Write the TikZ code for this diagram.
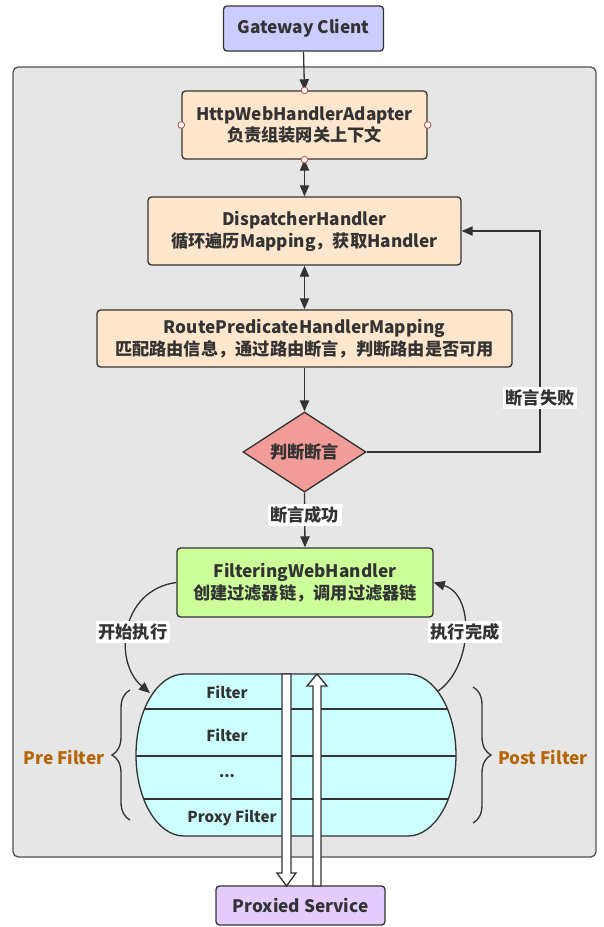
\documentclass[tikz,border=0pt]{standalone}
\usepackage{fontspec}
\setmainfont{Noto Sans CJK SC}
\usetikzlibrary{shapes.geometric,arrows.meta,decorations.pathreplacing,calc}
\definecolor{linec}{HTML}{333333}
\definecolor{bgc}{HTML}{E6E6E6}
\definecolor{gcc}{HTML}{CCCCFF}
\definecolor{peach}{HTML}{FFE6CC}
\definecolor{diac}{HTML}{F19C99}
\definecolor{greenc}{HTML}{CCFF99}
\definecolor{cyanc}{HTML}{CCFFFF}
\definecolor{purpc}{HTML}{E5CCFF}
\definecolor{brownc}{HTML}{B46504}
\definecolor{dotc}{HTML}{B85450}
\tikzset{
  box/.style={draw=linec, line width=0.75pt, rounded corners=2pt, align=center,
    inner sep=0pt, text=linec, font=\fontsize{9.8}{12.5}\selectfont\bfseries},
  txt/.style={text=linec, inner sep=1pt, font=\fontsize{9.8}{12.5}\selectfont\bfseries},
  ftxt/.style={txt, font=\fontsize{8.6}{11}\selectfont\bfseries},
  lbl/.style={txt, fill=white, inner sep=1.5pt},
  arr/.style={draw=linec, line width=0.75pt, -{Triangle[length=6.3pt,width=5.3pt]}},
  darr/.style={draw=linec, line width=0.75pt, {Triangle[length=6.3pt,width=5.3pt]}-{Triangle[length=6.3pt,width=5.3pt]}},
  dot/.style={circle, draw=dotc, fill=white, line width=0.5pt, inner sep=0pt, minimum size=3.8pt},
  hollow/.style={draw=linec, fill=white, line width=0.75pt, line join=miter},
  bracestyle/.style={draw=linec, line width=0.75pt, decorate, decoration={brace, amplitude=0.36cm}},
}
\begin{document}
\begin{tikzpicture}[x=0.02cm, y=-0.02cm]
\useasboundingbox (0,0) rectangle (604,927);
% outer container
\draw[fill=bgc, draw=linec!85, line width=0.75pt, rounded corners=3pt] (13,67) rectangle (596,857);

% nodes
\node[box, fill=gcc, minimum width=160*0.02cm, minimum height=45*0.02cm] (gc) at (303.5,28.5) {Gateway Client};
\node[box, fill=peach, minimum width=245*0.02cm, minimum height=68*0.02cm] (http) at (304.5,125) {HttpWebHandlerAdapter\\负责组装网关上下文};
\node[box, fill=peach, minimum width=313*0.02cm, minimum height=68*0.02cm] (disp) at (304.5,231) {DispatcherHandler\\循环遍历Mapping，获取Handler};
\node[box, fill=peach, minimum width=415*0.02cm, minimum height=57*0.02cm] (route) at (304.5,338.5) {RoutePredicateHandlerMapping\\匹配路由信息，通过路由断言，判断路由是否可用};
\node[box, diamond, aspect=1.5, rounded corners=0pt, fill=diac, minimum width=123*0.02cm, minimum height=80*0.02cm] (dia) at (304.5,452) {判断断言};
\node[box, fill=greenc, minimum width=256*0.02cm, minimum height=69*0.02cm] (fwh) at (305,582.5) {FilteringWebHandler\\创建过滤器链，调用过滤器链};
\node[box, fill=purpc, minimum width=169*0.02cm, minimum height=39*0.02cm] (ps) at (300.5,905.5) {Proxied Service};

% filter chain shape
\node[minimum width=320*0.02cm, minimum height=162*0.02cm, inner sep=0pt] (flt) at (296,755) {};
\draw[fill=cyanc, draw=linec, line width=0.75pt]
  (184,674) -- (408,674) arc[start angle=90, end angle=-90, x radius=0.96cm, y radius=1.62cm]
  -- (184,836) arc[start angle=270, end angle=90, x radius=0.96cm, y radius=1.62cm] -- cycle;
\begin{scope}
\clip (184,674) -- (408,674) arc[start angle=90, end angle=-90, x radius=0.96cm, y radius=1.62cm]
  -- (184,836) arc[start angle=270, end angle=90, x radius=0.96cm, y radius=1.62cm] -- cycle;
\draw[linec, line width=0.75pt] (120,709) -- (470,709) (120,756) -- (470,756) (120,799) -- (470,799);
\end{scope}
\node[ftxt] (f1) at (227,692) {Filter};
\node[ftxt] (f2) at (227,735) {Filter};
\node[ftxt] (f3) at (227,776) {...};
\node[ftxt] (f4) at (232,818) {Proxy Filter};

% hollow arrows
\draw[hollow] (282,674) -- (282,873) -- (277,873) -- (286.5,886) -- (296,873) -- (291,873) -- (291,674) -- cycle;
\draw[hollow] (313,886) -- (313,686) -- (307,686) -- (317,674) -- (327,686) -- (321,686) -- (321,886) -- cycle;

% connectors
\draw[arr] (gc.south) -- (http.north);
\draw[darr] (http.south) -- (disp.north);
\draw[darr] (disp.south) -- (route.north);
\draw[arr] (route.south) -- (dia.north);
\draw[arr] (dia.south) -- node[lbl, pos=0.41] (ok) {断言成功} (fwh.north);
\coordinate (fbx) at (540,0);
\draw[arr] (dia.east) -- (dia.east -| fbx) -- (disp.east -| fbx) -- (disp.east);
\node[lbl] (fail) at (540,398) {断言失败};

% dots on http adapter
\node[dot] (d1) at (http.north) {};
\node[dot] (d2) at (http.south) {};
\node[dot] (d3) at (http.west) {};
\node[dot] (d4) at (http.east) {};

% curved arrows
\coordinate (fs) at (150,693);
\coordinate (fe) at (438,691);
\draw[arr] (fwh.west) .. controls (120,590) and (113,662) .. (fs);
\draw[arr] (fe) .. controls (472,668) and (476,595) .. (fwh.east);
\node[lbl] (start) at (133,632) {开始执行};
\node[lbl] (done) at (465,632) {执行完成};

% braces
\draw[bracestyle] (130,820) -- (130,690);
\draw[bracestyle] (473,687) -- (473,823);
\node[txt, text=brownc] (pre) at (64,757) {Pre Filter};
\node[txt, text=brownc] (post) at (543,757) {Post Filter};
\end{tikzpicture}
\end{document}
